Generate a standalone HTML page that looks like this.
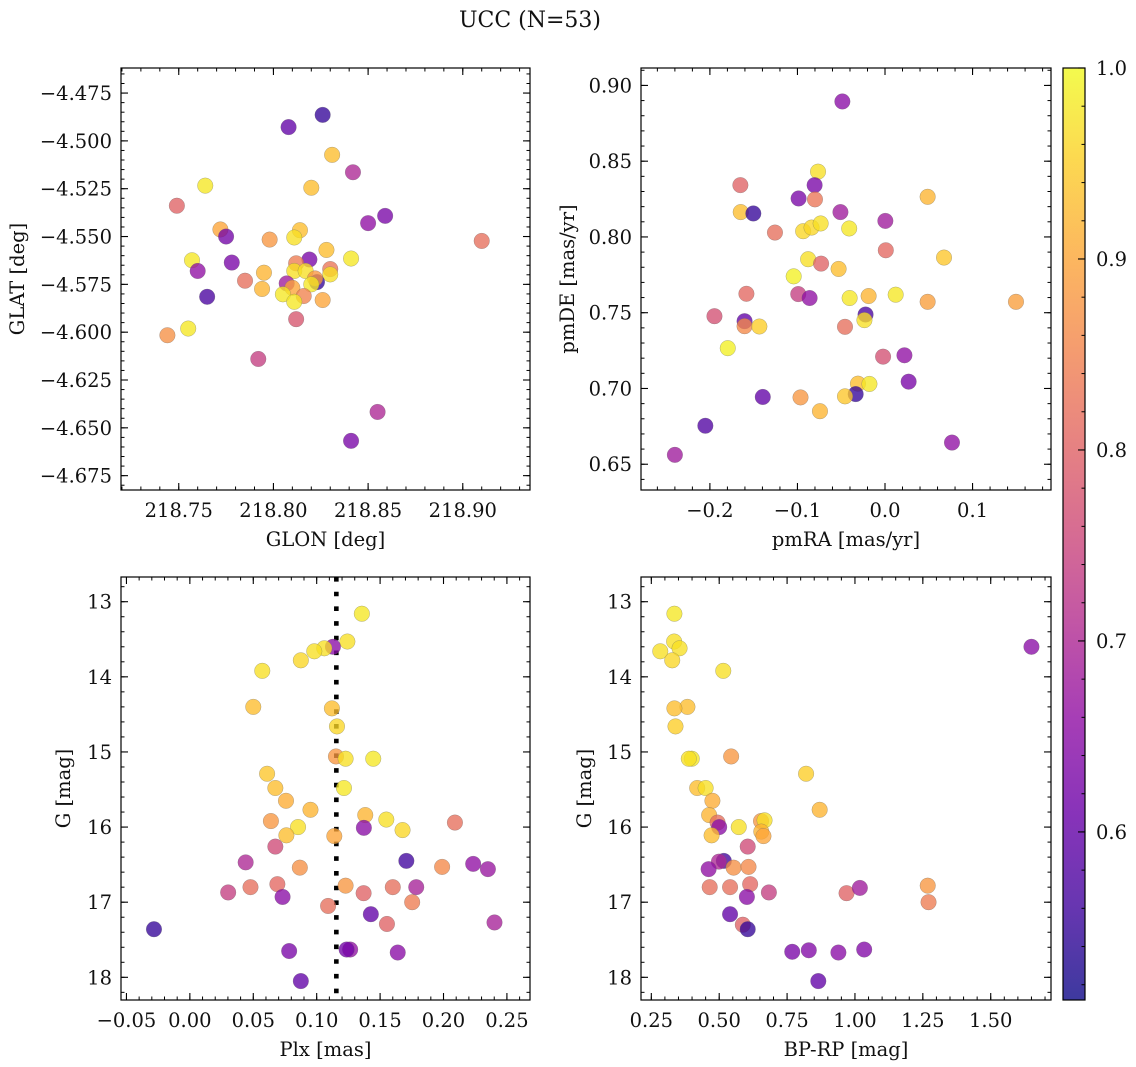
<!DOCTYPE html>
<html><head><meta charset="utf-8"><style>
html,body{margin:0;padding:0;background:#fff;}
svg{display:block;font-family:"DejaVu Serif","Liberation Serif",serif;}
</style></head><body>
<svg id="fig" width="1136" height="1067" viewBox="0 0 1136 1067" xmlns="http://www.w3.org/2000/svg">
<defs>
<linearGradient id="plasmaGrad" x1="0" y1="1" x2="0" y2="0"></linearGradient>
</defs>
<text x="530" y="27" font-size="22" text-anchor="middle" fill="#111">UCC (N=53)</text>
</svg>
<script>
// ---------- data ----------
const glon = [218.826,218.808,218.831,218.842,218.764,218.820,218.749,218.859,218.850,218.772,218.775,218.814,218.811,218.798,218.910,218.828,218.757,218.841,218.819,218.778,218.812,218.760,218.795,218.830,218.811,218.817,218.830,218.785,218.823,218.822,218.807,218.820,218.810,218.794,218.765,218.805,218.816,218.826,218.811,218.755,218.744,218.812,218.792,218.855,218.841];
const glat = [-4.4864,-4.4928,-4.5073,-4.5164,-4.5234,-4.5245,-4.5339,-4.5392,-4.5430,-4.5463,-4.5500,-4.5467,-4.5505,-4.5516,-4.5523,-4.5570,-4.5624,-4.5615,-4.5620,-4.5636,-4.5640,-4.5680,-4.5689,-4.5670,-4.5680,-4.5680,-4.5698,-4.5731,-4.5738,-4.5719,-4.5745,-4.5750,-4.5768,-4.5774,-4.5815,-4.5802,-4.5811,-4.5832,-4.5841,-4.5981,-4.6016,-4.5932,-4.6140,-4.6417,-4.6568];
const prob1 = [0.55,0.60,0.93,0.70,0.98,0.93,0.80,0.63,0.66,0.90,0.62,0.93,0.97,0.88,0.82,0.93,0.98,0.98,0.63,0.63,0.84,0.66,0.92,0.83,0.97,0.97,0.97,0.82,0.55,0.88,0.68,0.98,0.90,0.92,0.57,0.98,0.85,0.90,0.98,0.98,0.87,0.78,0.74,0.70,0.63];

const pmra = [-0.0487,-0.0765,-0.1652,-0.0804,-0.0987,-0.0800,0.0487,-0.1648,-0.1504,-0.0509,0.0004,-0.1257,-0.0935,-0.0839,-0.0735,-0.0409,0.0009,0.0674,-0.0878,-0.0730,-0.0530,-0.1043,-0.1583,-0.0991,-0.0861,-0.0404,-0.0187,0.0122,0.0487,0.1496,-0.1948,-0.1604,-0.1604,-0.1435,-0.0222,-0.0235,-0.0457,-0.1796,-0.0022,0.0222,0.0270,-0.0309,-0.0178,-0.0335,-0.0457,-0.1396,-0.0965,-0.0743,-0.2052,0.0765,-0.2400];
const pmde = [0.8894,0.8431,0.8342,0.8342,0.8254,0.8248,0.8265,0.8164,0.8155,0.8164,0.8106,0.8029,0.8038,0.8062,0.8089,0.8056,0.7912,0.7864,0.7853,0.7824,0.7789,0.7740,0.7625,0.7623,0.7597,0.7597,0.7610,0.7619,0.7572,0.7572,0.7477,0.7444,0.7411,0.7409,0.7488,0.7451,0.7407,0.7266,0.7210,0.7219,0.7045,0.7032,0.7030,0.6963,0.6948,0.6944,0.6941,0.6850,0.6754,0.6643,0.6562];
const prob2 = [0.65,0.97,0.80,0.63,0.63,0.83,0.92,0.93,0.55,0.68,0.68,0.82,0.96,0.96,0.97,0.98,0.81,0.94,0.97,0.80,0.93,0.99,0.81,0.74,0.66,0.98,0.92,0.98,0.89,0.89,0.77,0.60,0.86,0.95,0.57,0.97,0.82,0.99,0.77,0.66,0.63,0.93,0.98,0.55,0.94,0.60,0.88,0.92,0.58,0.66,0.68];

const plx = [0.1356,0.1242,0.1128,0.1060,0.0981,0.0875,0.0571,0.0500,0.1120,0.1160,0.1152,0.1228,0.1446,0.0609,0.0674,0.1215,0.0758,0.0951,0.1383,0.1549,0.0639,0.2090,0.0853,0.1372,0.1677,0.0761,0.1139,0.0674,0.1707,0.0440,0.2234,0.0867,0.1989,0.2350,0.0690,0.1228,0.0478,0.1600,0.1785,0.0302,0.1370,0.0731,0.1753,0.1090,0.1427,0.2402,0.1554,-0.0283,0.0783,0.1264,0.1236,0.1639,0.0875];
const gmag3 = [13.16,13.53,13.60,13.62,13.66,13.78,13.92,14.40,14.42,14.66,15.06,15.09,15.09,15.29,15.48,15.48,15.65,15.77,15.84,15.90,15.92,15.94,16.00,16.01,16.04,16.11,16.12,16.26,16.45,16.47,16.49,16.54,16.53,16.56,16.76,16.78,16.80,16.80,16.80,16.87,16.88,16.93,17.00,17.05,17.16,17.27,17.29,17.36,17.65,17.63,17.63,17.67,18.05];
const prob3 = [0.98,0.97,0.65,0.97,0.97,0.96,0.97,0.93,0.93,0.96,0.88,0.97,0.98,0.94,0.93,0.98,0.91,0.92,0.92,0.97,0.88,0.82,0.97,0.65,0.96,0.93,0.90,0.76,0.56,0.70,0.66,0.87,0.86,0.67,0.81,0.88,0.82,0.82,0.69,0.74,0.80,0.65,0.84,0.82,0.60,0.69,0.80,0.55,0.63,0.66,0.62,0.65,0.60];
const plxMean = [0.1155];

const bprp = [0.335,0.334,0.354,0.283,0.327,1.650,0.515,0.383,0.335,0.339,0.399,0.388,0.544,0.820,0.419,0.450,0.475,0.870,0.463,0.494,0.500,0.654,0.667,0.572,0.655,0.663,0.472,0.605,0.517,0.499,0.461,0.553,0.608,0.614,0.465,0.540,0.683,0.602,0.969,1.018,1.268,1.271,0.540,0.587,0.605,0.769,0.830,0.939,1.034,0.865];
const gmag4 = [13.16,13.53,13.62,13.66,13.78,13.60,13.92,14.40,14.42,14.66,15.09,15.09,15.06,15.29,15.48,15.48,15.65,15.77,15.84,15.94,16.00,15.92,15.91,16.00,16.06,16.12,16.11,16.26,16.45,16.46,16.56,16.54,16.53,16.76,16.80,16.80,16.87,16.93,16.88,16.81,16.78,17.00,17.16,17.30,17.36,17.66,17.64,17.67,17.63,18.05];
const prob4 = [0.98,0.97,0.97,0.97,0.96,0.65,0.97,0.93,0.93,0.95,0.98,0.97,0.88,0.95,0.93,0.97,0.91,0.92,0.92,0.82,0.65,0.88,0.97,0.97,0.92,0.90,0.93,0.76,0.56,0.70,0.66,0.87,0.86,0.81,0.82,0.82,0.74,0.65,0.80,0.68,0.88,0.84,0.60,0.80,0.55,0.63,0.64,0.65,0.64,0.60];

const ticks1x = [218.75,218.80,218.85,218.90];
const ticks1y = [-4.475,-4.500,-4.525,-4.550,-4.575,-4.600,-4.625,-4.650,-4.675];
const ticks2x = [-0.2,-0.1,0.0,0.1];
const ticks2y = [0.65,0.70,0.75,0.80,0.85,0.90];
const ticks3x = [-0.05,0.00,0.05,0.10,0.15,0.20,0.25];
const ticksGy = [13,14,15,16,17,18];
const ticks4x = [0.25,0.50,0.75,1.00,1.25,1.50];
const cbarTicks = [0.6,0.7,0.8,0.9,1.0];
const cbarRange = [0.512,1.0];

// ---------- helpers ----------
const NS = "http://www.w3.org/2000/svg";
const svg = document.getElementById('fig');
const FS = 19.5;
const plasma = ["#0d0887","#41049d","#6a00a8","#8f0da4","#b12a90","#cc4778","#e16462","#f2844b","#fca636","#fcce25","#f0f921"];
function hex(h){return [parseInt(h.slice(1,3),16),parseInt(h.slice(3,5),16),parseInt(h.slice(5,7),16)];}
function cmap(t){
  t=Math.max(0,Math.min(1,t));
  const p=t*10, i=Math.min(9,Math.floor(p)), f=p-i;
  const a=hex(plasma[i]), b=hex(plasma[i+1]);
  return "rgb("+a.map((v,k)=>Math.round(v+(b[k]-v)*f)).join(",")+")";
}
function norm(c){return (c-cbarRange[0])/(cbarRange[1]-cbarRange[0]);}
function mk(tag,attrs,parent){const e=document.createElementNS(NS,tag);for(const k in attrs)e.setAttribute(k,attrs[k]);(parent||svg).appendChild(e);return e;}
function fmt(v,d){const s=Math.abs(v).toFixed(d);return (v< -1e-9?"\u2212":"")+s;}

function panel(cfg){
  const [L,T,R,B]=cfg.box;
  const g=mk('g',{});
  
  
  const sx=v=>L+(v-cfg.xr[0])/(cfg.xr[1]-cfg.xr[0])*(R-L);
  const sy=cfg.yinv ? (v=>T+(v-cfg.yr[0])/(cfg.yr[1]-cfg.yr[0])*(B-T)) : (v=>B-(v-cfg.yr[0])/(cfg.yr[1]-cfg.yr[0])*(B-T));
  const cid='clip'+cfg.name;
  const cp=mk('clipPath',{id:cid},svg.querySelector('defs'));
  mk('rect',{x:L,y:T,width:R-L,height:B-T},cp);
  const marks=mk('g',{'clip-path':'url(#'+cid+')'},g);
  
  
  if(cfg.vline){
    const ln=mk('line',{x1:sx(cfg.vline[0]),x2:sx(cfg.vline[0]),y1:T,y2:B,stroke:'#000','stroke-width':4.6,'stroke-dasharray':'4.6 10.1'},marks);
    
    
  }
  for(let i=0;i<cfg.xs.length;i++){
    const c=mk('circle',{cx:sx(cfg.xs[i]),cy:sy(cfg.ys[i]),r:7.8,fill:cmap(norm(cfg.cs[i])),'fill-opacity':0.78,stroke:'#666','stroke-opacity':0.5,'stroke-width':0.5},marks);
    
    
  }
  const minor=(lo,hi,st,fn)=>{const s=Math.ceil(lo/st-1e-9);for(let k=s;k*st<=hi+1e-9;k++)fn(k*st);};
  minor(cfg.xr[0],cfg.xr[1],cfg.xmin,v=>{const x=sx(v);mk('line',{x1:x,x2:x,y1:B,y2:B-3.5,stroke:'#000','stroke-width':1},g);mk('line',{x1:x,x2:x,y1:T,y2:T+3.5,stroke:'#000','stroke-width':1},g);});
  const ylo=Math.min(cfg.yr[0],cfg.yr[1]),yhi=Math.max(cfg.yr[0],cfg.yr[1]);
  minor(ylo,yhi,cfg.ymin,v=>{const y=sy(v);mk('line',{x1:L,x2:L+3.5,y1:y,y2:y,stroke:'#000','stroke-width':1},g);mk('line',{x1:R,x2:R-3.5,y1:y,y2:y,stroke:'#000','stroke-width':1},g);});
  cfg.xt.forEach(v=>{const x=sx(v);
    mk('line',{x1:x,x2:x,y1:B,y2:B-7,stroke:'#000','stroke-width':1.1},g);
    mk('line',{x1:x,x2:x,y1:T,y2:T+7,stroke:'#000','stroke-width':1.1},g);
    const t=mk('text',{x:x,y:B+27,'font-size':FS,'text-anchor':'middle',fill:'#111'},g);t.textContent=fmt(v,cfg.xd);
    
    
  });
  cfg.yt.forEach(v=>{const y=sy(v);
    mk('line',{x1:L,x2:L+7,y1:y,y2:y,stroke:'#000','stroke-width':1.1},g);
    mk('line',{x1:R,x2:R-7,y1:y,y2:y,stroke:'#000','stroke-width':1.1},g);
    const t=mk('text',{x:L-9,y:y+7,'font-size':FS,'text-anchor':'end',fill:'#111'},g);t.textContent=fmt(v,cfg.yd);
    
    
  });
  const fr=mk('rect',{x:L,y:T,width:R-L,height:B-T,fill:'none',stroke:'#000','stroke-width':1.2},g);
  
  
  const xl=mk('text',{x:(L+R)/2,y:B+56,'font-size':FS,'text-anchor':'middle',fill:'#111'},g);xl.textContent=cfg.xlab;
  
  
  const yl=mk('text',{x:cfg.ylx,y:(T+B)/2,'font-size':FS,'text-anchor':'middle',fill:'#111',transform:'rotate(-90 '+cfg.ylx+' '+((T+B)/2)+')'},g);yl.textContent=cfg.ylab;
  
  
}

panel({name:'glon-glat-panel',box:[121,68,530,490],xr:[218.7195,218.9355],yr:[-4.6825,-4.4619],xs:glon,ys:glat,cs:prob1,xt:ticks1x,yt:ticks1y,xd:2,yd:3,xmin:0.01,ymin:0.005,xlab:'GLON [deg]',ylab:'GLAT [deg]',ylx:24});
panel({name:'pm-panel',box:[641,68,1051,490],xr:[-0.2787,0.1896],yr:[0.633,0.9115],xs:pmra,ys:pmde,cs:prob2,xt:ticks2x,yt:ticks2y,xd:1,yd:2,xmin:0.02,ymin:0.01,xlab:'pmRA [mas/yr]',ylab:'pmDE [mas/yr]',ylx:574});
panel({name:'plx-g-panel',box:[121,577,530,1000],xr:[-0.0543,0.2682],yr:[12.671,18.302],yinv:true,xs:plx,ys:gmag3,cs:prob3,xt:ticks3x,yt:ticksGy,xd:2,yd:0,xmin:0.01,ymin:0.2,xlab:'Plx [mas]',ylab:'G [mag]',ylx:70,vline:plxMean});
panel({name:'cmd-panel',box:[641,577,1051,1000],xr:[0.212,1.722],yr:[12.671,18.302],yinv:true,xs:bprp,ys:gmag4,cs:prob4,xt:ticks4x,yt:ticksGy,xd:2,yd:0,xmin:0.05,ymin:0.2,xlab:'BP-RP [mag]',ylab:'G [mag]',ylx:591});

// colorbar
const grad=document.getElementById('plasmaGrad');
for(let i=0;i<=20;i++){const t=i/20;const v=cbarRange[0]+t*(cbarRange[1]-cbarRange[0]);mk('stop',{offset:t,'stop-color':cmap(norm(v)),'stop-opacity':0.8},grad);}
const CB=[1063,68,1085,1000];
const cg=mk('g',{});


mk('rect',{x:CB[0],y:CB[1],width:CB[2]-CB[0],height:CB[3]-CB[1],fill:'url(#plasmaGrad)'},cg);
const cy=v=>CB[3]-(v-cbarRange[0])/(cbarRange[1]-cbarRange[0])*(CB[3]-CB[1]);
for(let k=26;k<=50;k++){const v=k*0.02;if(v<cbarRange[0]||v>cbarRange[1]+1e-9)continue;const y=cy(v);mk('line',{x1:CB[2],x2:CB[2]-3.5,y1:y,y2:y,stroke:'#000','stroke-width':1},cg);}
cbarTicks.forEach(v=>{const y=cy(v);
  mk('line',{x1:CB[2],x2:CB[2]-7,y1:y,y2:y,stroke:'#000','stroke-width':1.1},cg);
  const t=mk('text',{x:1096,y:y+7,'font-size':FS,'text-anchor':'start',fill:'#111'},cg);t.textContent=v.toFixed(1);
  
  
});
mk('rect',{x:CB[0],y:CB[1],width:CB[2]-CB[0],height:CB[3]-CB[1],fill:'none',stroke:'#000','stroke-width':1.2},cg);
</script>
</body></html>
